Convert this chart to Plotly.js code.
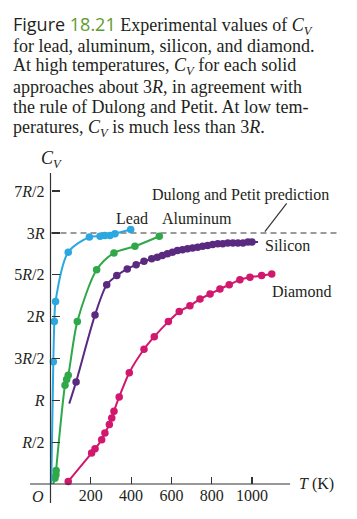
<!DOCTYPE html>
<html><head><meta charset="utf-8">
<script src="https://cdn.plot.ly/plotly-3.0.1.min.js"></script>
<style>html,body{margin:0;padding:0;background:#fff}#c{width:357px;height:519px}</style>
</head><body><div id="c"></div>
<script>
// ---- data (T in K, Cv in units of R) ----
const leadT  = [4, 14, 19, 25, 88, 193, 246, 270, 295, 320, 398];
const leadCv = [0, 1.46, 1.94, 2.18, 2.77, 2.95, 2.96, 2.97, 2.97, 2.99, 3.04];
const leadMarked = [0,1,1,1,1,1,1,1,1,1,1];

const alT  = [14, 22, 27, 28, 72, 80, 88, 133, 229, 315, 419, 540];
const alCv = [0, 0.07, 0.11, 0.16, 1.18, 1.25, 1.30, 1.94, 2.56, 2.76, 2.84, 2.96];
const alMarked = [0,1,1,1,1,1,1,1,1,1,1,1];

const siT  = [93, 127, 221, 279, 329, 381, 425, 464, 502, 530, 555, 580, 605, 630, 655, 680, 705, 730, 755, 780, 805, 830, 855, 880, 905, 930, 955, 980, 1000, 1030];
const siCv = [0.96, 1.22, 2.02, 2.38, 2.49, 2.57, 2.62, 2.66, 2.69, 2.71, 2.73, 2.75, 2.77, 2.79, 2.80, 2.81, 2.82, 2.83, 2.84, 2.85, 2.86, 2.87, 2.87, 2.88, 2.88, 2.88, 2.88, 2.89, 2.89, 2.89];
const siMarked = [0,1,1,1,1,1,1,1,1,1,1,1,1,1,1,1,1,1,1,1,1,1,1,1,1,1,1,1,1,0];

const diT  = [88, 204, 221, 254, 270, 292, 304, 315, 341, 391, 464, 515, 585, 639, 692, 742, 792, 841, 887, 940, 990, 1048, 1098];
const diCv = [0.03, 0.37, 0.42, 0.53, 0.61, 0.71, 0.79, 0.87, 1.04, 1.33, 1.61, 1.76, 1.94, 2.06, 2.13, 2.21, 2.27, 2.33, 2.38, 2.44, 2.47, 2.49, 2.51];
const diMarked = diT.map(() => 1);

const dulongT  = [0, 1420];
const dulongCv = [3, 3];

const xTickVals = [200, 400, 600, 800, 1000];
const xTickText = ['200', '400', '600', '800', '1000'];
const yTickVals = [0.5, 1, 1.5, 2, 2.5, 3, 3.5];
const yTickText = ['<i>R</i>/2', '<i>R</i>', '3<i>R</i>/2', '2<i>R</i>', '5<i>R</i>/2', '3<i>R</i>', '7<i>R</i>/2'];

const seriesNames = ['Lead', 'Aluminum', 'Silicon', 'Diamond'];

// ---- layout geometry ----
const W = 357, H = 519;
const X0 = 50.5, XS = 0.2015, Y0 = 484, YS = 83.7;
const xr = [(0 - X0) / XS, (W - X0) / XS];
const yr = [(Y0 - H) / YS, Y0 / YS];
const serif = 'Liberation Serif, Times New Roman, serif';
const ink = '#231f20';

const colors = {Lead:'#2aa8df', Aluminum:'#2fa84a', Silicon:'#5a2a80', Diamond:'#d2176e'};

function series(x, y, marked, name) {
  const line = {
    x: x, y: y, type: 'scatter', mode: 'lines', name: name,
    line: {color: colors[name], width: 2, shape: 'spline', smoothing: 0.8},
    hoverinfo: 'skip'
  };
  const mx = x.filter((v, i) => marked[i]);
  const my = y.filter((v, i) => marked[i]);
  const pts = {
    x: mx, y: my, type: 'scatter', mode: 'markers', name: name,
    marker: {color: colors[name], size: 7.5, line: {width: 0}},
    hoverinfo: 'skip', cliponaxis: false
  };
  return [line, pts];
}

const traces = [
  {x: dulongT, y: dulongCv, type: 'scatter', mode: 'lines', line: {color: '#7a7a7a', width: 1.5, dash: '6px,4px'}, hoverinfo: 'skip'}
].concat(
  series(diT, diCv, diMarked, 'Diamond'),
  series(siT, siCv, siMarked, 'Silicon'),
  series(alT, alCv, alMarked, 'Aluminum'),
  series(leadT, leadCv, leadMarked, 'Lead')
);

function ann(text, px, py, xanchor, size, extra) {
  return Object.assign({
    text: text, xref: 'paper', yref: 'paper', x: px / W, y: 1 - py / H,
    xanchor: xanchor, yanchor: 'middle', showarrow: false,
    font: {family: serif, size: size, color: ink}
  }, extra || {});
}

const sans = 'font-family:Open Sans, Noto Sans, sans-serif';
const cap = 18;
const annotations = [
  ann('<span style="' + sans + '">Figure <span style="color:#5e9b30">18.21</span></span> Experimental values of <i>C</i><sub><i>V</i></sub>', 11, 25, 'left', cap),
  ann('for lead, aluminum, silicon, and diamond.', 11, 46, 'left', cap),
  ann('At high temperatures, <i>C</i><sub><i>V</i></sub> for each solid', 11, 66, 'left', cap),
  ann('approaches about 3<i>R</i>, in agreement with', 11, 87, 'left', cap),
  ann('the rule of Dulong and Petit. At low tem-', 11, 107, 'left', cap),
  ann('peratures, <i>C</i><sub><i>V</i></sub> is much less than 3<i>R</i>.', 11, 128, 'left', cap),
  ann('<i>C</i><sub><i>V</i></sub>', 51, 160, 'center', 18),
  ann('Dulong and Petit prediction', 150, 195, 'left', 16),
  ann(seriesNames[0], 114, 218, 'left', 16),
  ann(seriesNames[1], 160, 218, 'left', 16),
  ann(seriesNames[2], 263, 245, 'left', 16),
  ann(seriesNames[3], 270, 291, 'left', 16),
  ann('<i>T</i> (K)', 297, 484, 'left', 16),
  ann('<i>O</i>', 38, 496, 'center', 16)
];

const axisColor = '#333';
const shapes = [
  {type: 'line', xref: 'x', yref: 'y', x0: -102, x1: 1189, y0: 0, y1: 0, line: {color: axisColor, width: 1.2}},
  {type: 'line', xref: 'x', yref: 'y', x0: 0, x1: 0, y0: -0.227, y1: 3.716, line: {color: axisColor, width: 1.2}},
  {type: 'line', xref: 'x', yref: 'y', x0: 1064, y0: 3.014, x1: 1172, y1: 3.354, line: {color: '#333', width: 1.2}}
];

const layout = {
  width: W, height: H,
  margin: {l: 0, r: 0, t: 0, b: 0, pad: 0},
  paper_bgcolor: '#fff', plot_bgcolor: 'rgba(0,0,0,0)',
  showlegend: false,
  xaxis: {
    range: xr, domain: [0, 1], anchor: 'free', position: (H - Y0) / H,
    showgrid: false, zeroline: false, showline: false,
    tickmode: 'array', tickvals: xTickVals, ticktext: xTickText,
    ticks: 'inside', ticklen: 7, tickwidth: 1.2, tickcolor: axisColor,
    tickfont: {family: serif, size: 16, color: ink}, automargin: false, fixedrange: true
  },
  yaxis: {
    range: yr, domain: [0, 1], anchor: 'free', position: X0 / W,
    showgrid: false, zeroline: false, showline: false,
    tickmode: 'array', tickvals: yTickVals, ticktext: yTickText,
    ticks: 'inside', ticklen: 8, tickwidth: 1.2, tickcolor: axisColor, ticklabelstandoff: 6,
    tickfont: {family: serif, size: 16, color: ink}, automargin: false, fixedrange: true
  },
  shapes: shapes,
  annotations: annotations
};

Plotly.newPlot('c', traces, layout, {displayModeBar: false, staticPlot: true});
</script></body></html>
